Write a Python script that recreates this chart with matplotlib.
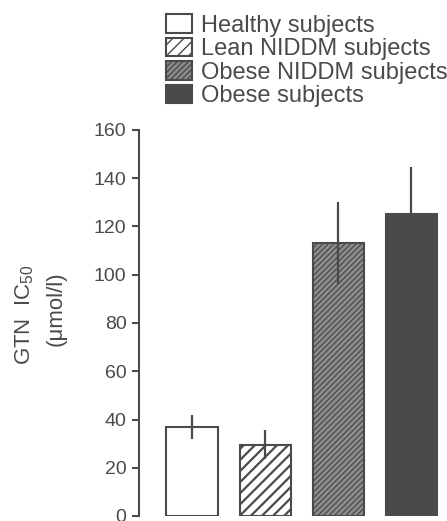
"""
GTN IC50 by subject group - bar chart with SEM error bars
"""

import matplotlib
matplotlib.use('Agg')
import matplotlib.pyplot as plt

# data
groups = ['Healthy subjects', 'Lean NIDDM subjects',
          'Obese NIDDM subjects', 'Obese subjects']
ic50 = [37, 29.5, 113, 125]
sem = [5, 6, 17, 19.5]
y_ticks = [0, 20, 40, 60, 80, 100, 120, 140, 160]

INK = '#4a4a4a'
STYLES = [
    dict(facecolor='white', hatch=None, hatch_lw=1.0),
    dict(facecolor='white', hatch='///', hatch_lw=1.6),
    dict(facecolor='#8c8c8c', hatch='//////', hatch_lw=0.9),
    dict(facecolor='#4a4a4a', hatch=None, hatch_lw=1.0),
]

plt.rcParams['font.family'] = ['Liberation Sans', 'DejaVu Sans']
plt.rcParams['mathtext.fontset'] = 'custom'
plt.rcParams['mathtext.rm'] = 'Liberation Sans'
plt.rcParams['mathtext.it'] = 'Liberation Sans'
plt.rcParams['text.color'] = INK


def main():
    fig = plt.figure(figsize=(4.47, 5.21), dpi=100)
    ax = fig.add_axes([139 / 447, 5 / 521, 308 / 447, 386 / 521])

    bars = []
    for i, (val, err, st) in enumerate(zip(ic50, sem, STYLES)):
        plt.rcParams['hatch.linewidth'] = st['hatch_lw']
        b = ax.bar(i, val, width=0.70, facecolor=st['facecolor'],
                   edgecolor=INK, linewidth=1.5, hatch=st['hatch'],
                   label=groups[i], zorder=2)
        if hasattr(b[0], 'set_hatch_linewidth'):
            b[0].set_hatch_linewidth(st['hatch_lw'])
        ax.errorbar(i, val, yerr=err, fmt='none', ecolor=INK,
                    elinewidth=1.6, capsize=0, zorder=3)
        bars.append(b)

    ax.set_xlim(-0.726, 3.49)
    ax.set_ylim(0, 160)
    ax.set_yticks(y_ticks)
    ax.set_xticks([])
    for side in ['top', 'right', 'bottom']:
        ax.spines[side].set_visible(False)
    ax.spines['left'].set_color(INK)
    ax.spines['left'].set_linewidth(1.5)
    ax.tick_params(axis='y', direction='out', length=5, width=1.5,
                   color=INK, labelcolor=INK, labelsize=14, pad=4)

    fig.text(25 / 447, 1 - 315 / 521, r'GTN  IC$_{50}$', rotation=90,
             ha='center', va='center', fontsize=16, color=INK)
    fig.text(56 / 447, 1 - 309 / 521, '(\u03bcmol/l)', rotation=90,
             ha='center', va='center', fontsize=16, color=INK)

    fig.legend(handles=bars, labels=groups, loc='upper left',
               bbox_to_anchor=(166 / 447, 1 - 14 / 521), frameon=False,
               fontsize=17, handlelength=1.1, handleheight=0.85,
               handletextpad=0.4, labelspacing=0.04, borderpad=0,
               borderaxespad=0, labelcolor=INK)

    fig.savefig('out.png', dpi=100)
    plt.close(fig)


if __name__ == "__main__":
    main()
